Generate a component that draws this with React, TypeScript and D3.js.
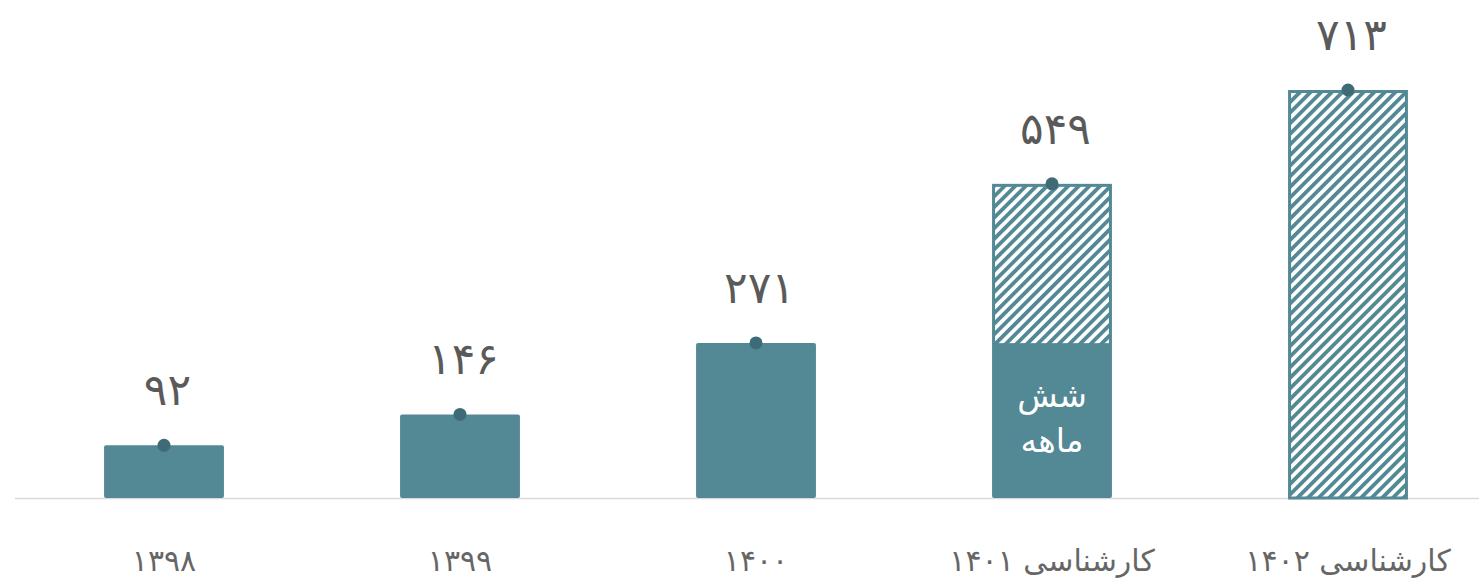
import React, { useEffect } from "react";
import * as d3 from "d3";

const categories = ["۱۳۹۸", "۱۳۹۹", "۱۴۰۰", "کارشناسی ۱۴۰۱", "کارشناسی ۱۴۰۲"];
const totalValues = [92, 146, 271, 549, 713];
const solidValues = [92, 146, 271, 268, 0];
const valueLabels = ["۹۲", "۱۴۶", "۲۷۱", "۵۴۹", "۷۱۳"];
const insideLabelLines = ["شش", "ماهه"];
const insideLabelIndex = 3;

const W = 1479;
const H = 585;
const BASE = 498;
const TEAL = "#538895";
const DOT = "#3f6b77";
const FONT = "'DejaVu Sans', sans-serif";

export default function App() {
  useEffect(() => {
    document.body.style.margin = "0";
  }, []);

  const x = d3
    .scaleBand<string>()
    .domain(categories)
    .range([16, 1496])
    .paddingInner(0.595)
    .paddingOuter(0.2975);
  const y = d3.scaleLinear().domain([0, 713]).range([BASE, 90]);
  const bw = x.bandwidth();

  return (
    <svg width={W} height={H} style={{ display: "block", background: "#fff" }}>
      <defs>
        <pattern
          id="hatch"
          patternUnits="userSpaceOnUse"
          width={7.5}
          height={7.5}
          patternTransform="rotate(45)"
        >
          <rect x={0} y={0} width={7.5} height={7.5} fill="#fff" />
          <rect x={0} y={0} width={3.8} height={7.5} fill={TEAL} />
        </pattern>
      </defs>
      <line x1={15} x2={W} y1={BASE + 0.5} y2={BASE + 0.5} stroke="#d9d9d9" strokeWidth={1.5} />
      {categories.map((c, i) => {
        const x0 = x(c)!;
        const total = totalValues[i];
        const solid = solidValues[i];
        const cx = x0 + bw / 2;
        return (
          <g key={c}>
            {total > solid && (
              <rect
                x={x0 + 1.5}
                y={y(total) + 1.5}
                width={bw - 3}
                height={y(solid) - y(total) - 1.5}
                fill="url(#hatch)"
                stroke={TEAL}
                strokeWidth={3}
              />
            )}
            {solid > 0 && (
              <rect
                x={x0}
                y={y(solid)}
                width={bw}
                height={BASE - y(solid)}
                fill={TEAL}
                rx={2}
              />
            )}
            <circle cx={cx} cy={y(total)} r={6.5} fill={DOT} />
            <text
              x={cx + 3.5}
              y={y(total) - 40}
              textAnchor="middle"
              fontFamily={FONT}
              fontSize={44}
              letterSpacing={-8}
              fill="#5a5a5a"
            >
              {valueLabels[i]}
            </text>
            <text
              x={cx}
              y={571}
              textAnchor="middle"
              direction="rtl"
              fontFamily={FONT}
              fontSize={30}
              fill="#666"
            >
              {c}
            </text>
            {i === insideLabelIndex &&
              insideLabelLines.map((t, j) => (
                <text
                  key={t}
                  x={cx}
                  y={407 + j * 45}
                  textAnchor="middle"
                  direction="rtl"
                  fontFamily={FONT}
                  fontSize={33}
                  fill="#fff"
                >
                  {t}
                </text>
              ))}
          </g>
        );
      })}
    </svg>
  );
}
